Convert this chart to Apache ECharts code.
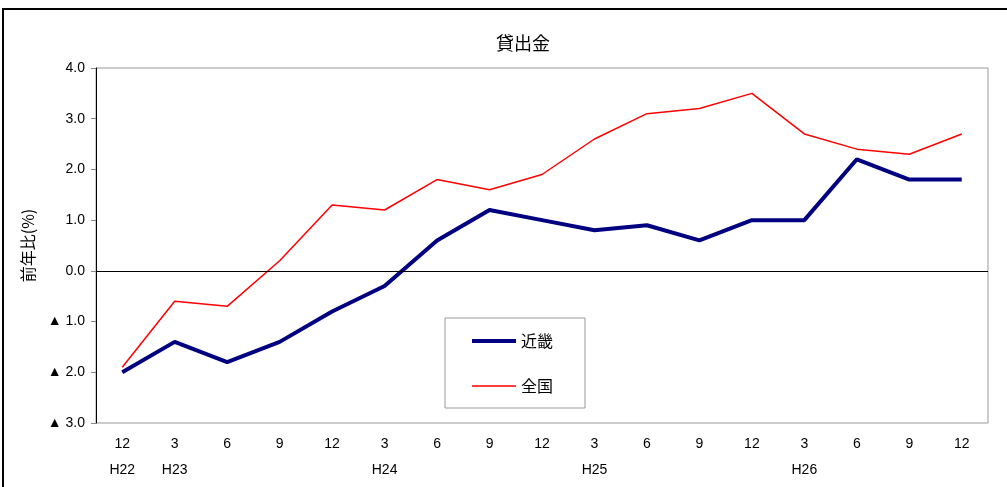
<!DOCTYPE html>
<html>
<head>
<meta charset="utf-8">
<script src="https://cdn.jsdelivr.net/npm/echarts@6/dist/echarts.min.js"></script>
<style>
  html, body { margin: 0; padding: 0; background: #fff; }
  #chart { width: 1007px; height: 487px; }
</style>
</head>
<body>
<div id="chart"></div>
<script>
// 月（下段に年度）
const months = ['12', '3', '6', '9', '12', '3', '6', '9', '12', '3', '6', '9', '12', '3', '6', '9', '12']
const years = ['H22', 'H23', '', '', '', 'H24', '', '', '', 'H25', '', '', '', 'H26', '', '', '']
// 前年比(%)
const kinki = [-2.0, -1.4, -1.8, -1.4, -0.8, -0.3, 0.6, 1.2, 1.0, 0.8, 0.9, 0.6, 1.0, 1.0, 2.2, 1.8, 1.8]
const zenkoku = [-1.9, -0.6, -0.7, 0.2, 1.3, 1.2, 1.8, 1.6, 1.9, 2.6, 3.1, 3.2, 3.5, 2.7, 2.4, 2.3, 2.7]

const categories = months.map((m, i) => m + '\n' + years[i])

const chart = echarts.init(document.getElementById('chart'))
const font = '"Liberation Sans", "Noto Sans CJK JP", sans-serif'
const jp = '"Noto Sans CJK JP", sans-serif'

chart.setOption({
  animation: false,
  textStyle: { fontFamily: font },
  graphic: [{
    type: 'rect',
    shape: { x: 3, y: 9, width: 1100, height: 600 },
    style: { fill: 'none', stroke: '#000', lineWidth: 2 },
    silent: true
  }],
  title: {
    text: '貸出金',
    left: 518,
    top: 29,
    textAlign: 'center',
    textStyle: { fontSize: 18, fontWeight: 'normal', color: '#000', fontFamily: jp }
  },
  legend: {
    orient: 'vertical',
    left: 445,
    top: 318,
    padding: [15, 32, 14, 27],
    itemGap: 29,
    itemWidth: 44,
    itemHeight: 16,
    borderColor: '#999',
    borderWidth: 1,
    backgroundColor: '#fff',
    textStyle: { fontSize: 16, color: '#000', fontFamily: jp },
    data: [
      { name: '近畿', icon: 'path://M0,0 L44,0 L44,4 L0,4 Z' },
      { name: '全国', icon: 'path://M0,0 L44,0 L44,1.5 L0,1.5 Z' }
    ]
  },
  grid: {
    left: 96,
    right: 19,
    top: 68,
    bottom: 64,
    show: true,
    borderColor: '#999',
    borderWidth: 1
  },
  xAxis: {
    type: 'category',
    data: categories,
    axisLine: { show: false },
    axisTick: { show: false },
    axisLabel: {
      color: '#000',
      fontSize: 14,
      lineHeight: 26,
      margin: 8,
      interval: 0
    }
  },
  yAxis: {
    type: 'value',
    min: -3,
    max: 4,
    interval: 1,
    name: '前年比(%)',
    nameLocation: 'middle',
    nameGap: 60,
    nameRotate: 90,
    nameTextStyle: { fontSize: 16, color: '#000', fontFamily: jp },
    axisLine: { show: true, lineStyle: { color: '#000', width: 1 } },
    axisTick: { show: true, length: 5, lineStyle: { color: '#888' } },
    splitLine: { show: false },
    axisLabel: {
      color: '#000',
      fontSize: 14,
      margin: 11,
      formatter: v => v < 0 ? '▲ ' + Math.abs(v).toFixed(1) : v.toFixed(1)
    }
  },
  series: [
    {
      name: '近畿',
      type: 'line',
      data: kinki,
      symbol: 'none',
      z: 3,
      lineStyle: { color: '#000080', width: 4 },
      itemStyle: { color: '#000080' },
      markLine: {
        silent: true,
        symbol: 'none',
        label: { show: false },
        lineStyle: { color: '#000', width: 1, type: 'solid' },
        data: [{ yAxis: 0 }]
      }
    },
    {
      name: '全国',
      type: 'line',
      data: zenkoku,
      symbol: 'none',
      z: 2,
      lineStyle: { color: '#ff0000', width: 1.5 },
      itemStyle: { color: '#ff0000' }
    }
  ]
})
</script>
</body>
</html>
